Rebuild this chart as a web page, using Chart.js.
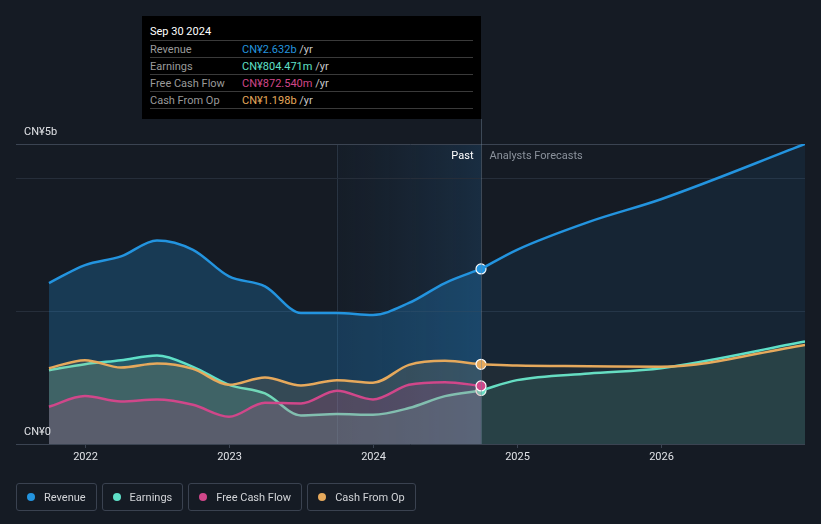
<!DOCTYPE html>
<html>
<head>
<meta charset="utf-8">
<script src="https://cdn.jsdelivr.net/npm/chart.js@4.4.1/dist/chart.umd.min.js"></script>
<style>
  body { margin: 0; background: #151b24; font-family: Roboto, "Noto Sans", sans-serif; }
  #wrap { position: relative; width: 821px; height: 524px; overflow: hidden; }
  #chart { position: absolute; left: 0; top: 0; }
  #tip { position: absolute; left: 142px; top: 16px; width: 339px; height: 103px; background: #000; box-sizing: border-box; padding: 4px 8px 0 8px; font-size: 11px; }
  #tip .title { color: #fff; height: 20px; line-height: 23px; }
  #tip .row { height: 16px; line-height: 17px; border-top: 1px solid #3a3a3a; color: #9a9a9a; }
  #tip .row:last-child { border-bottom: 1px solid #3a3a3a; }
  #tip .row span.l { display: inline-block; width: 92px; }
  #tip .row span.u { color: #c8c8c8; }
  #legend { position: absolute; left: 16px; top: 483px; display: flex; gap: 5px; }
  #legend .item { height: 28px; box-sizing: border-box; border: 1px solid #3a4250; border-radius: 3px; padding: 0 10px 0 10px; display: flex; align-items: center; color: #d2d4d8; font-size: 11px; }
  #legend .dot { width: 8px; height: 8px; border-radius: 50%; margin-right: 9px; }
</style>
</head>
<body>
<div id="wrap">
  <canvas id="chart" width="821" height="524"></canvas>
  <div id="tip"></div>
  <div id="legend"></div>
</div>
<script>
// decimal years, quarterly history
var pastDates = [2021.75, 2022.0, 2022.25, 2022.5, 2022.75, 2023.0, 2023.25, 2023.5, 2023.75, 2024.0, 2024.25, 2024.5, 2024.75];
var revenuePast  = [2.42, 2.69, 2.82, 3.06, 2.92, 2.52, 2.37, 1.97, 1.97, 1.94, 2.12, 2.42, 2.632];
var earningsPast = [1.11, 1.20, 1.26, 1.33, 1.16, 0.89, 0.76, 0.43, 0.45, 0.44, 0.54, 0.72, 0.804];
var fcfPast      = [0.56, 0.72, 0.64, 0.67, 0.59, 0.41, 0.62, 0.61, 0.80, 0.67, 0.89, 0.93, 0.873];
var cfoPast      = [1.14, 1.26, 1.15, 1.21, 1.13, 0.89, 1.00, 0.88, 0.96, 0.92, 1.19, 1.25, 1.198];

// analyst forecasts
var fcDates = [2024.75, 2025.0, 2025.5, 2026.0, 2027.0];
var revenueFc  = [2.632, 2.92, 3.34, 3.68, 4.51];
var earningsFc = [0.804, 0.96, 1.06, 1.14, 1.54];
var cfoFc      = [1.198, 1.18, 1.17, 1.16, 1.49];

var yearTicks = [2022, 2023, 2024, 2025, 2026];
var xMin = 2021.521, xMax = 2027.0;
var yMax = 4.51;
var lastPast = 2024.75;
var lastYearStart = 2023.75;

var colors = {
    revenue: '#2394df',
    earnings: '#5fe0c8',
    fcf: '#d0478a',
    cfo: '#e6a95c'
};

function pts(xs, ys) {
    return xs.map(function(x, i) { return { x: x, y: ys[i] }; });
}

function rgba(hex, a) {
    var n = parseInt(hex.slice(1), 16);
    return 'rgba(' + (n >> 16) + ',' + ((n >> 8) & 255) + ',' + (n & 255) + ',' + a + ')';
}

// marker only on last historic point
function lastMarker(ctx) {
    return ctx.dataIndex === pastDates.length - 1 ? 5 : 0;
}

function line(label, data, color, fillAlpha, order, marker) {
    return {
        label: label,
        data: data,
        borderColor: color,
        backgroundColor: rgba(color, fillAlpha),
        borderWidth: 2.5,
        fill: 'origin',
        cubicInterpolationMode: 'monotone',
        pointRadius: marker ? lastMarker : 0,
        pointBackgroundColor: color,
        pointBorderColor: '#ffffff',
        pointBorderWidth: 1.2,
        order: order
    };
}

var decor = {
    id: 'decor',
    beforeDatasetsDraw: function(chart) {
        var c = chart.ctx, a = chart.chartArea;
        var xs = chart.scales.x, ys = chart.scales.y;
        c.save();
        // last year highlight
        var x0 = xs.getPixelForValue(lastYearStart), x1 = xs.getPixelForValue(lastPast);
        var g = c.createLinearGradient(x0, 0, x1, 0);
        g.addColorStop(0, 'rgba(40,80,120,0.05)');
        g.addColorStop(1, 'rgba(40,110,170,0.22)');
        c.fillStyle = g;
        c.fillRect(x0, a.top, x1 - x0, a.bottom - a.top);
        c.strokeStyle = 'rgba(80,100,120,0.35)';
        c.lineWidth = 1;
        c.beginPath(); c.moveTo(x0 + 0.5, a.top); c.lineTo(x0 + 0.5, a.bottom); c.stroke();
        // grid
        c.strokeStyle = '#262e3a';
        [2, 4].forEach(function(v) {
            var y = Math.round(ys.getPixelForValue(v)) + 0.5;
            c.beginPath(); c.moveTo(a.left, y); c.lineTo(a.right, y); c.stroke();
        });
        c.strokeStyle = '#3b4452';
        c.beginPath(); c.moveTo(a.left, a.top + 0.5); c.lineTo(a.right, a.top + 0.5); c.stroke();
        c.restore();
    },
    afterDraw: function(chart) {
        var c = chart.ctx, a = chart.chartArea;
        var xs = chart.scales.x;
        c.save();
        // axis line and ticks
        c.strokeStyle = '#3b4452';
        c.lineWidth = 1;
        c.beginPath(); c.moveTo(a.left, a.bottom + 0.5); c.lineTo(a.right, a.bottom + 0.5); c.stroke();
        c.font = '11px Roboto, sans-serif';
        c.fillStyle = '#e0e2e6';
        c.textAlign = 'center';
        c.textBaseline = 'middle';
        yearTicks.forEach(function(t) {
            var x = Math.round(xs.getPixelForValue(t)) + 0.5;
            c.beginPath(); c.moveTo(x, a.bottom); c.lineTo(x, a.bottom + 4); c.stroke();
            c.fillText(String(t), x, a.bottom + 13);
        });
        // y labels
        c.textAlign = 'left';
        c.fillText('CN¥5b', 24, a.top - 12);
        c.fillText('CN¥0', 24, a.bottom - 12);
        // past / forecast divider
        var xp = Math.round(xs.getPixelForValue(lastPast)) + 0.5;
        c.strokeStyle = 'rgba(110,130,150,0.45)';
        c.beginPath(); c.moveTo(xp, 119); c.lineTo(xp, a.bottom); c.stroke();
        c.textAlign = 'right';
        c.fillStyle = '#ffffff';
        c.fillText('Past', xp - 8, a.top + 12);
        c.textAlign = 'left';
        c.fillStyle = '#8b929c';
        c.fillText('Analysts Forecasts', xp + 8, a.top + 12);
        c.restore();
    }
};

var ctx = document.getElementById('chart').getContext('2d');
var chart = new Chart(ctx, {
    type: 'line',
    data: {
        datasets: [
            line('Revenue', pts(pastDates, revenuePast), colors.revenue, 0.26, 7, true),
            line('Revenue forecast', pts(fcDates, revenueFc), colors.revenue, 0.09, 6, false),
            line('Earnings', pts(pastDates, earningsPast), colors.earnings, 0.18, 5, true),
            line('Earnings forecast', pts(fcDates, earningsFc), colors.earnings, 0.12, 4, false),
            line('Cash From Op', pts(pastDates, cfoPast), colors.cfo, 0.14, 3, true),
            line('Cash From Op forecast', pts(fcDates, cfoFc), colors.cfo, 0.05, 2, false),
            line('Free Cash Flow', pts(pastDates, fcfPast), colors.fcf, 0.18, 1, true)
        ]
    },
    options: {
        responsive: false,
        animation: false,
        layout: { padding: { left: 16, right: 16, top: 144, bottom: 80 } },
        scales: {
            x: { type: 'linear', min: xMin, max: xMax, display: false },
            y: { min: 0, max: yMax, display: false }
        },
        plugins: {
            legend: { display: false },
            tooltip: { enabled: false },
            filler: { drawTime: 'beforeDatasetDraw' }
        }
    },
    plugins: [decor]
});

// static tooltip for the last reported period
var tipRows = [
    ['Revenue', 'CN¥2.632b', colors.revenue],
    ['Earnings', 'CN¥804.471m', colors.earnings],
    ['Free Cash Flow', 'CN¥872.540m', colors.fcf],
    ['Cash From Op', 'CN¥1.198b', colors.cfo]
];
var tip = document.getElementById('tip');
var html = '<div class="title">Sep 30 2024</div>';
tipRows.forEach(function(r) {
    html += '<div class="row"><span class="l">' + r[0] + '</span><span style="color:' + r[2] + '">' + r[1] + '</span> <span class="u">/yr</span></div>';
});
tip.innerHTML = html;

// legend
var legendItems = [['Revenue', colors.revenue], ['Earnings', colors.earnings], ['Free Cash Flow', colors.fcf], ['Cash From Op', colors.cfo]];
var legend = document.getElementById('legend');
legendItems.forEach(function(it) {
    var d = document.createElement('div');
    d.className = 'item';
    d.innerHTML = '<span class="dot" style="background:' + it[1] + '"></span>' + it[0];
    legend.appendChild(d);
});
</script>
</body>
</html>
